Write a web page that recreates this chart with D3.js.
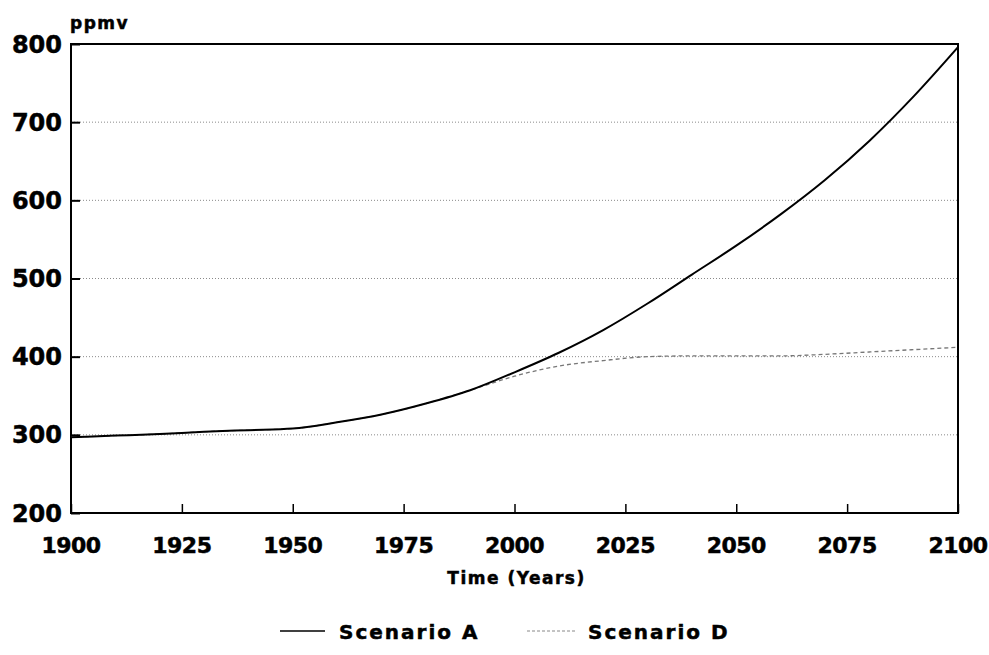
<!DOCTYPE html>
<html>
<head>
<meta charset="utf-8">
<script src="https://cdn.jsdelivr.net/npm/d3@7"></script>
<style>
  body { margin: 0; background: #fff; }
  text { font-family: "DejaVu Sans", sans-serif; font-weight: bold; fill: #000; stroke: #000; stroke-width: 0.5px; }
</style>
</head>
<body>
<svg id="my_svg"></svg>
<script>
const width = 989;
const height = 655;

// data
const years = [1900, 1910, 1920, 1930, 1940, 1950, 1960, 1970, 1980, 1990, 2000,
               2010, 2020, 2030, 2040, 2050, 2060, 2070, 2080, 2090, 2100];
const scenarioA = [297, 299, 301, 304, 306, 308, 316, 326, 340, 357, 380,
                   405, 434, 468, 505, 542, 582, 626, 676, 733, 796];
const scenarioD = [297, 299, 301, 304, 306, 308, 316, 326, 340, 357, 375,
                   388, 395, 400, 401, 401, 401, 403, 406, 409, 412];
const xTicks = [1900, 1925, 1950, 1975, 2000, 2025, 2050, 2075, 2100];
const yTicks = [200, 300, 400, 500, 600, 700, 800];
const gridValues = [300, 400, 500, 600, 700];

const svg = d3.select('#my_svg')
    .attr('width', width)
    .attr('height', height);

const x = d3.scaleLinear().domain([1900, 2100]).range([71, 958]);
const y = d3.scaleLinear().domain([200, 800]).range([513, 44]);

// dotted grid lines
svg.append('g')
    .selectAll('line')
    .data(gridValues)
    .enter().append('line')
    .attr('x1', x(1900))
    .attr('x2', x(2100))
    .attr('y1', d => y(d))
    .attr('y2', d => y(d))
    .attr('stroke', '#8a8a8a')
    .attr('stroke-width', 1)
    .attr('stroke-dasharray', '1,2');

// y axis (ticks inward)
const yAxis = svg.append('g')
    .attr('transform', `translate(${x(1900)},0)`)
    .call(d3.axisRight(y).tickValues(yTicks).tickSize(9).tickFormat(''));
yAxis.select('.domain').remove();
yAxis.selectAll('line').attr('stroke', '#000').attr('stroke-width', 2);

svg.append('g')
    .selectAll('text')
    .data(yTicks)
    .enter().append('text')
    .attr('x', 62)
    .attr('y', d => y(d))
    .attr('dy', '0.36em')
    .attr('text-anchor', 'end')
    .style('font-size', '24px')
    .text(d => d);

// x axis (ticks inward)
const xAxis = svg.append('g')
    .attr('transform', `translate(0,${y(200)})`)
    .call(d3.axisTop(x).tickValues(xTicks).tickSize(9).tickFormat(''));
xAxis.select('.domain').remove();
xAxis.selectAll('line').attr('stroke', '#000').attr('stroke-width', 1.5);

svg.append('g')
    .selectAll('text')
    .data(xTicks)
    .enter().append('text')
    .attr('x', d => x(d))
    .attr('y', 553)
    .attr('text-anchor', 'middle')
    .style('font-size', '22px')
    .style('letter-spacing', '-0.5px')
    .text(d => d);

// frame
svg.append('rect')
    .attr('x', x(1900))
    .attr('y', y(800))
    .attr('width', x(2100) - x(1900))
    .attr('height', y(200) - y(800))
    .attr('fill', 'none')
    .attr('stroke', '#000')
    .attr('stroke-width', 2);

// titles
svg.append('text')
    .attr('x', 70)
    .attr('y', 29)
    .style('font-size', '17px')
    .style('letter-spacing', '1.5px')
    .text('ppmv');

svg.append('text')
    .attr('x', (x(1900) + x(2100)) / 2 + 2)
    .attr('y', 584)
    .attr('text-anchor', 'middle')
    .style('font-size', '17px')
    .style('letter-spacing', '1.5px')
    .text('Time (Years)');

// lines
const line = vals => d3.line()
    .x((d, i) => x(years[i]))
    .y(d => y(d))
    .curve(d3.curveMonotoneX)(vals);

svg.append('path')
    .attr('d', line(scenarioD))
    .attr('fill', 'none')
    .attr('stroke', '#777')
    .attr('stroke-width', 1.3)
    .attr('stroke-dasharray', '4,3');

svg.append('path')
    .attr('d', line(scenarioA))
    .attr('fill', 'none')
    .attr('stroke', '#000')
    .attr('stroke-width', 2);

// legend
const legendItems = [
    {name: 'Scenario A', x1: 280, x2: 325, tx: 339, color: '#000', dash: null, w: 1.5},
    {name: 'Scenario D', x1: 527, x2: 575, tx: 588, color: '#888', dash: '3,2', w: 1}
];
const leg = svg.selectAll('.legend')
    .data(legendItems)
    .enter().append('g')
    .attr('class', 'legend');
leg.append('line')
    .attr('x1', d => d.x1)
    .attr('x2', d => d.x2)
    .attr('y1', 631)
    .attr('y2', 631)
    .attr('stroke', d => d.color)
    .attr('stroke-width', d => d.w)
    .attr('stroke-dasharray', d => d.dash);
leg.append('text')
    .attr('x', d => d.tx)
    .attr('y', 639)
    .style('font-size', '20px')
    .style('letter-spacing', '2px')
    .text(d => d.name);
</script>
</body>
</html>
